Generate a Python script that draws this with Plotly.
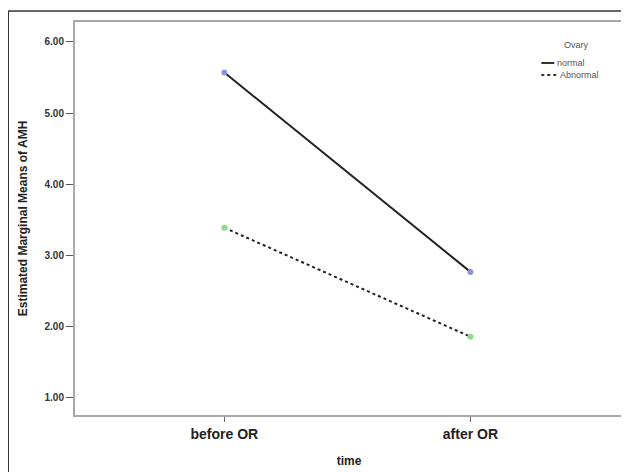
import plotly.graph_objects as go

categories = ["before OR", "after OR"]
normal = [5.57, 2.77]
abnormal = [3.39, 1.86]
y_ticks = [1, 2, 3, 4, 5, 6]
y_tick_labels = ["1.00", "2.00", "3.00", "4.00", "5.00", "6.00"]
legend_title = "Ovary"
series_names = ["normal", "Abnormal"]

# page has an 8px body margin; figure drawn at (8, 8)
OFF = 8
W, H = 629 - OFF, 472 - OFF
L, T = 75 - OFF, 22 - OFF
R = W - (625 - OFF)
B = H - (415 - OFF)
pw, ph = W - L - R, H - T - B


def px(x):  # page x -> paper x
    return (x - OFF - L) / pw


def py(y):  # page y -> paper y
    return 1 - (y - OFF - T) / ph


fig = go.Figure()
fig.add_trace(go.Scatter(x=categories, y=normal, mode="lines+markers", name=series_names[0],
                         line=dict(color="#222222", width=2),
                         marker=dict(color="#8d93dc", size=6), showlegend=False))
fig.add_trace(go.Scatter(x=categories, y=abnormal, mode="lines+markers", name=series_names[1],
                         line=dict(color="#222222", width=2, dash="dot"),
                         marker=dict(color="#8fd98f", size=6), showlegend=False))

font = "Liberation Sans, Arial, sans-serif"
fig.update_layout(
    width=W, height=H,
    margin=dict(l=L, r=R, t=T, b=B),
    paper_bgcolor="white", plot_bgcolor="white",
    font=dict(family=font, color="#333333"),
    showlegend=False,
    xaxis=dict(
        type="category", range=[-0.607, 1.62],
        showline=True, linecolor="#a8a8a8", linewidth=2, mirror=True,
        ticks="outside", ticklen=5, tickcolor="#666666", tickwidth=1,
        showgrid=False, zeroline=False,
        tickfont=dict(size=14, color="#222222", family=font, weight="bold"),
        title=dict(text="time", font=dict(size=12, color="#222222", weight="bold"), standoff=16),
    ),
    yaxis=dict(
        range=[0.76, 6.28],
        tickvals=y_ticks, ticktext=y_tick_labels,
        showline=True, linecolor="#a8a8a8", linewidth=2, mirror=True,
        ticks="outside", ticklen=7, tickcolor="#555555", tickwidth=1,
        showgrid=False, zeroline=False,
        tickfont=dict(size=10, color="#333333", weight="bold"),
        title=dict(text="Estimated Marginal Means of AMH",
                   font=dict(size=12, color="#222222", weight="bold"), standoff=14),
    ),
)

# manual legend (SPSS style)
leg_font = dict(size=9, color="#555555", family=font)
fig.add_annotation(xref="paper", yref="paper", x=px(578), y=py(45), text=legend_title,
                   showarrow=False, font=leg_font, xanchor="center", yanchor="middle")
fig.add_shape(type="line", xref="paper", yref="paper", x0=px(543), x1=px(556),
              y0=py(63), y1=py(63), line=dict(color="#333333", width=2))
fig.add_annotation(xref="paper", yref="paper", x=px(557), y=py(63), text=series_names[0],
                   showarrow=False, font=leg_font, xanchor="left", yanchor="middle")
fig.add_shape(type="line", xref="paper", yref="paper", x0=px(543), x1=px(558),
              y0=py(75), y1=py(75), line=dict(color="#333333", width=2, dash="dot"))
fig.add_annotation(xref="paper", yref="paper", x=px(560), y=py(75), text=series_names[1],
                   showarrow=False, font=leg_font, xanchor="left", yanchor="middle")

# outer frame lines (top and left)
fig.add_shape(type="line", xref="paper", yref="paper", x0=px(8), x1=px(629),
              y0=py(11), y1=py(11), line=dict(color="#333333", width=1.5))
fig.add_shape(type="line", xref="paper", yref="paper", x0=px(8), x1=px(8),
              y0=py(11), y1=py(472), line=dict(color="#333333", width=1.5))

fig.write_html("out.html")
